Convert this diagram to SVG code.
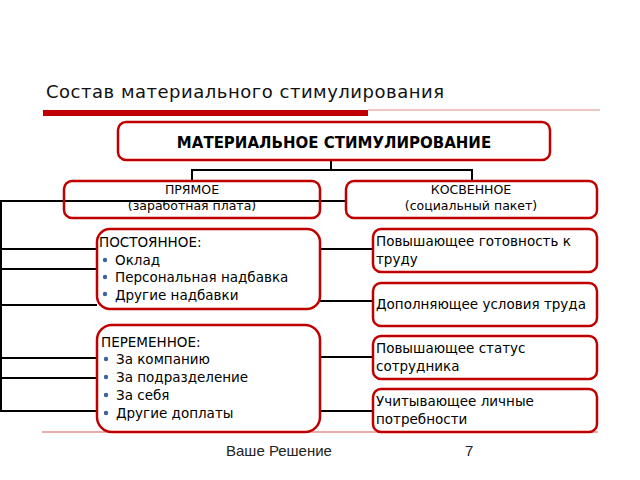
<svg xmlns="http://www.w3.org/2000/svg" width="640" height="480" viewBox="0 0 640 480">
<style>
.box{fill:#fff;stroke:#c00000;stroke-width:2.5}
.con{fill:none;stroke:#000;stroke-width:2}
.t{font-family:"DejaVu Sans",Verdana,sans-serif;font-size:13.5px;fill:#000}
.s{font-size:12.5px}
.c{text-anchor:middle}
.b{font-weight:bold;font-size:15px}
.dot{fill:#3a64a0}
</style>
<rect width="640" height="480" fill="#fff"/>
<g id="header">
<text x="46" y="98" font-family="DejaVu Sans,Verdana,sans-serif" font-size="18" fill="#111" textLength="398">Состав материального стимулирования</text>
<rect x="43" y="110" width="325" height="6" fill="#c00000"/>
<line x1="368" y1="110" x2="600" y2="110" stroke="#d88" stroke-width="1"/>
</g>
<line x1="42" y1="432" x2="598" y2="432" stroke="#e09090" stroke-width="1.5"/>
<g id="connectors">
<path class="con" d="M331 160V170M192 181V170H472V181"/>
<path class="con" d="M0 201H346M1 201V411"/>
<path class="con" d="M0 249H97M0 269H97M0 305H97M0 358H97M0 378H97M0 411H97"/>
<path class="con" d="M320 249H373M320 301H373M320 357H373M320 411H373"/>
</g>
<g id="n-top">
<rect class="box" x="118" y="122" width="432" height="38" rx="8"/>
<text class="t c b" x="334" y="148">МАТЕРИАЛЬНОЕ СТИМУЛИРОВАНИЕ</text>
</g>
<g id="n-direct">
<rect class="box" x="64" y="181" width="256" height="37" rx="8" fill-opacity="0"/>
<text class="t c s" x="192" y="194">ПРЯМОЕ</text>
<text class="t c s" x="192" y="210">(заработная плата)</text>
</g>
<g id="n-indirect">
<rect class="box" x="346" y="181" width="251" height="37" rx="8"/>
<text class="t c s" x="471" y="194">КОСВЕННОЕ</text>
<text class="t c s" x="471" y="210">(социальный пакет)</text>
</g>
<g id="n-const">
<rect class="box" x="97" y="229" width="223" height="80" rx="13"/>
<text class="t" x="99" y="247">ПОСТОЯННОЕ:</text>
<circle class="dot" cx="105" cy="260" r="2.2"/><text class="t" x="115" y="265">Оклад</text>
<circle class="dot" cx="105" cy="277" r="2.2"/><text class="t" x="115" y="282">Персональная надбавка</text>
<circle class="dot" cx="105" cy="294" r="2.2"/><text class="t" x="115" y="300">Другие надбавки</text>
</g>
<g id="n-var">
<rect class="box" x="97" y="325" width="223" height="107" rx="15"/>
<text class="t" x="101" y="347">ПЕРЕМЕННОЕ:</text>
<circle class="dot" cx="106" cy="359" r="2.2"/><text class="t" x="116" y="364">За компанию</text>
<circle class="dot" cx="106" cy="377" r="2.2"/><text class="t" x="116" y="382">За подразделение</text>
<circle class="dot" cx="106" cy="395" r="2.2"/><text class="t" x="116" y="400">За себя</text>
<circle class="dot" cx="106" cy="413" r="2.2"/><text class="t" x="116" y="418">Другие доплаты</text>
</g>
<g id="n-r1">
<rect class="box" x="373" y="229" width="224" height="43" rx="8"/>
<text class="t" x="376" y="246">Повышающее готовность к</text>
<text class="t" x="376" y="264">труду</text>
</g>
<g id="n-r2">
<rect class="box" x="373" y="283" width="224" height="43" rx="8"/>
<text class="t" x="376" y="309">Дополняющее условия труда</text>
</g>
<g id="n-r3">
<rect class="box" x="373" y="336" width="224" height="43" rx="8"/>
<text class="t" x="376" y="353">Повышающее статус</text>
<text class="t" x="376" y="371">сотрудника</text>
</g>
<g id="n-r4">
<rect class="box" x="373" y="389" width="224" height="43" rx="8"/>
<text class="t" x="376" y="406">Учитывающее личные</text>
<text class="t" x="376" y="424">потребности</text>
</g>
<g id="footer">
<text x="226" y="456" font-family="Liberation Sans,Arial,sans-serif" font-size="15" fill="#222">Ваше Решение</text>
<text x="465" y="456" font-family="Liberation Sans,Arial,sans-serif" font-size="15" fill="#222">7</text>
</g>
</svg>
